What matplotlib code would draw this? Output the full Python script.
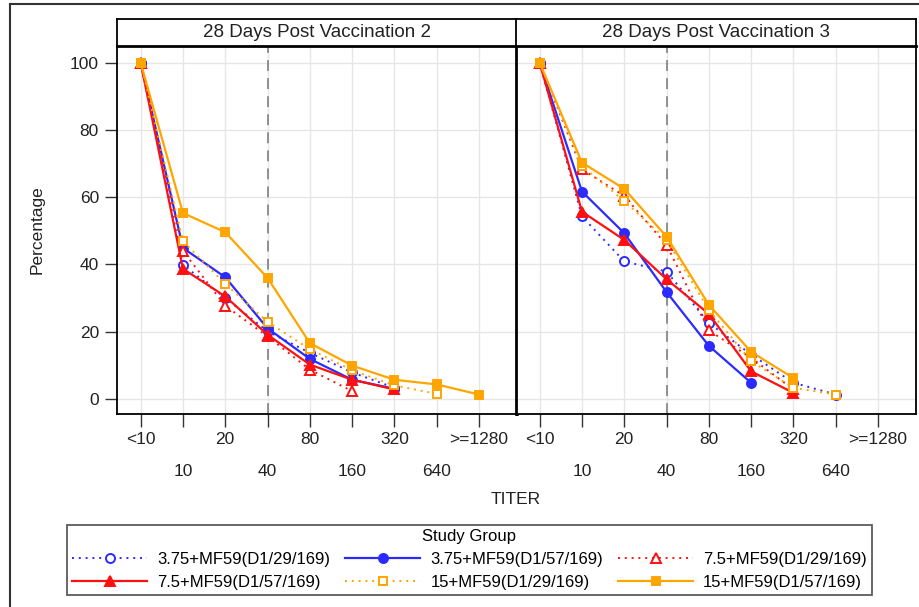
import matplotlib.pyplot as plt
from matplotlib.lines import Line2D

plt.rcParams['font.family'] = ['Liberation Sans Narrow', 'Liberation Sans', 'DejaVu Sans']

titers = ['<10', '10', '20', '40', '80', '160', '320', '640', '>=1280']
panels = ['28 Days Post Vaccination 2', '28 Days Post Vaccination 3']
groups = ['3.75+MF59(D1/29/169)', '3.75+MF59(D1/57/169)', '7.5+MF59(D1/29/169)',
          '7.5+MF59(D1/57/169)', '15+MF59(D1/29/169)', '15+MF59(D1/57/169)']

# percentage with titer >= value, per panel
v2_375_d29 = [100, 39.9, 30.0, 20.1, 13.7, 7.9, 3.3]
v2_375_d57 = [100, 44.9, 36.2, 21.0, 11.9, 5.7, 3.0]
v2_75_d29 = [100, 44.0, 27.7, 18.6, 8.7, 2.3]
v2_75_d57 = [100, 38.7, 30.5, 19.1, 10.2, 5.7, 2.8]
v2_15_d29 = [100, 46.9, 34.2, 22.9, 14.8, 8.5, 4.0, 1.5]
v2_15_d57 = [100, 55.3, 49.6, 36.0, 16.6, 9.9, 5.7, 4.3, 1.3]

v3_375_d29 = [100, 54.3, 40.9, 37.9, 22.6, 13.2, 4.8, 1.3]
v3_375_d57 = [100, 61.7, 49.3, 31.8, 15.8, 4.8]
v3_75_d29 = [100, 68.3, 60.4, 45.8, 20.4, 12.2, 2.8]
v3_75_d57 = [100, 55.7, 47.3, 35.6, 25.3, 8.2, 1.8]
v3_15_d29 = [100, 69.3, 58.9, 47.3, 26.5, 11.2, 3.3, 1.3]
v3_15_d57 = [100, 70.3, 62.5, 48.3, 28.0, 14.0, 6.2]

data = [[v2_375_d29, v2_375_d57, v2_75_d29, v2_75_d57, v2_15_d29, v2_15_d57],
        [v3_375_d29, v3_375_d57, v3_75_d29, v3_75_d57, v3_15_d29, v3_15_d57]]

blue, red, orange = '#2b2bff', '#ff1010', '#ffa500'
styles = [
    dict(color=blue, ls=(0, (1, 2.5)), marker='o', mfc='white', ms=6.5, lw=1.4),
    dict(color=blue, ls='-', marker='o', mfc=blue, ms=6.5, lw=1.6),
    dict(color=red, ls=(0, (1, 2.5)), marker='^', mfc='white', ms=7, lw=1.4),
    dict(color=red, ls='-', marker='^', mfc=red, ms=7, lw=1.6),
    dict(color=orange, ls=(0, (1, 2.5)), marker='s', mfc='white', ms=6, lw=1.4),
    dict(color=orange, ls='-', marker='s', mfc=orange, ms=6, lw=1.6),
]

W, H = 919, 607
fig = plt.figure(figsize=(W / 100, H / 100), dpi=100)

# outer frame (top and left)
fig.add_artist(Line2D([10 / W, 10 / W], [0, 1 - 4 / H], color='#333333', lw=1.5))
fig.add_artist(Line2D([10 / W, 1], [1 - 4 / H, 1 - 4 / H], color='#333333', lw=1.5))

lefts = [117, 516]
handles = []
for p in range(2):
    x0 = lefts[p]
    ax = fig.add_axes([x0 / W, 1 - 414 / H, 400 / W, (414 - 46) / H])
    hx = fig.add_axes([x0 / W, 1 - 46 / H, 400 / W, 27 / H])
    hx.set_xticks([])
    hx.set_yticks([])
    hx.text(0.5, 0.5, panels[p], ha='center', va='center', fontsize=13.5, color='#222222')
    for s in hx.spines.values():
        s.set_linewidth(1.3)
    hx.spines['bottom'].set_linewidth(2)

    for g in range(6):
        vals = data[p][g]
        h, = ax.plot(range(len(vals)), vals, **styles[g], mec=styles[g]['color'], mew=1.4)
        if p == 0:
            handles.append(h)

    ax.axvline(3, color='#888888', ls=(0, (6, 4)), lw=1.3, zorder=1)
    ax.set_xlim(-0.56, 8.9)
    ax.set_ylim(-4.5, 105)
    ax.set_xticks(range(0, 9, 2))
    ax.set_xticklabels(titers[0::2])
    ax.set_xticks(range(1, 9, 2), minor=True)
    ax.set_xticklabels(titers[1::2], minor=True)
    ax.tick_params(axis='x', which='both', length=9, width=1, color='#333333',
                   labelsize=12.5, labelcolor='#222222')
    ax.tick_params(axis='x', which='major', pad=4)
    ax.tick_params(axis='x', which='minor', pad=27)
    ax.grid(True, which='both', axis='x', color='#e6e6e6', lw=1, zorder=0)
    ax.set_yticks(range(0, 101, 20))
    ax.grid(True, which='major', axis='y', color='#e6e6e6', lw=1, zorder=0)
    ax.set_axisbelow(True)
    if p == 0:
        ax.tick_params(axis='y', length=9, width=1, color='#333333',
                       labelsize=12.5, labelcolor='#222222', pad=4)
    else:
        ax.tick_params(axis='y', length=0, labelleft=False)
    for s in ax.spines.values():
        s.set_linewidth(1.3)
    if p == 0:
        ax.spines['right'].set_linewidth(2)
    else:
        ax.spines['left'].set_linewidth(2)

fig.text(37 / W, 1 - 230 / H, 'Percentage', rotation=90, ha='center', va='center',
         fontsize=12.5, color='#222222')
fig.text(516 / W, 1 - 499 / H, 'TITER', ha='center', va='center',
         fontsize=12.5, color='#222222')

order = [0, 3, 1, 4, 2, 5]
leg = fig.legend([handles[i] for i in order], [groups[i] for i in order], ncol=3,
                 loc='center', bbox_to_anchor=(67 / W, 1 - 597 / H, 805 / W, 75 / H),
                 mode='expand', title='Study Group', fontsize=12, title_fontsize=12,
                 frameon=True, fancybox=False, edgecolor='#333333', handlelength=4.5,
                 handletextpad=0.6, borderpad=0.3, labelspacing=0.45, borderaxespad=0)
leg.get_frame().set_linewidth(1.3)

fig.savefig('out.png', dpi=100)
